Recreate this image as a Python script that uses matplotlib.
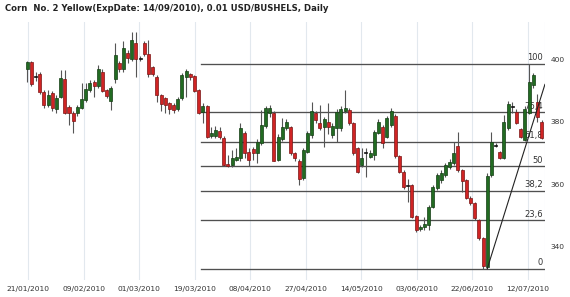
import numpy as np
import matplotlib
matplotlib.use("Agg")
import matplotlib.pyplot as plt

# Daily OHLC (USD cents / bushel)
opens = [396.9, 399.2, 394.6, 395.4, 389.7, 385.4, 389.4, 384.2, 388.1, 393.8,
         384.8, 383.0, 382.8, 384.6, 387.0, 390.2, 392.9, 391.5, 396.1, 390.2,
         386.8, 393.7, 398.8, 396.9, 402.2, 400.1, 405.2, 400.2, 405.2, 401.8,
         397.5, 394.5, 388.6, 387.6, 386.2, 385.4, 384.1, 387.6, 394.5, 395.4,
         394.7, 390.2, 383.3, 385.1, 375.5, 375.5, 377.2, 374.8, 366.5, 366.2,
         367.8, 368.5, 376.5, 370.5, 371.4, 370.0, 373.2, 378.7, 382.8, 383.0,
         367.9, 374.5, 378.0, 378.3, 370.0, 367.6, 362.0, 370.5, 375.8, 382.8,
         379.6, 378.5, 380.1, 375.8, 378.1, 378.0, 383.6, 383.8, 379.8, 371.6,
         366.2, 370.1, 368.9, 369.4, 376.4, 378.5, 375.3, 379.1, 381.9, 369.1,
         364.1, 359.6, 359.8, 349.9, 345.6, 346.3, 347.0, 352.9, 358.8, 361.4,
         363.0, 365.7, 366.8, 372.4, 364.6, 361.4, 355.8, 354.0, 348.6, 342.8,
         333.7, 363.0, 372.6, 370.3, 368.4, 378.0, 385.0, 383.1, 377.7, 374.2,
         382.8, 391.8, 386.5, 380.1]
highs = [399.5, 399.5, 396.0, 396.0, 390.2, 390.2, 390.0, 388.5, 396.6, 396.6,
         385.5, 383.5, 385.5, 392.4, 392.6, 393.5, 393.5, 398.2, 397.0, 390.5,
         391.5, 405.3, 399.5, 406.0, 403.0, 408.9, 408.9, 401.0, 406.0, 406.2,
         398.0, 395.0, 389.0, 388.0, 386.5, 386.0, 388.0, 395.5, 397.0, 395.8,
         395.0, 390.5, 386.0, 385.5, 378.5, 378.8, 378.5, 375.5, 369.4, 371.0,
         371.7, 379.7, 377.0, 371.5, 372.0, 374.5, 383.8, 385.0, 385.5, 383.5,
         376.0, 381.3, 381.0, 378.8, 370.5, 368.0, 371.5, 377.0, 386.5, 383.5,
         385.5, 381.5, 386.0, 379.5, 384.0, 385.0, 390.2, 384.5, 380.0, 372.0,
         371.7, 371.6, 371.0, 377.5, 381.0, 379.0, 382.0, 384.5, 382.5, 369.5,
         364.5, 361.7, 360.2, 350.2, 347.0, 349.7, 353.5, 359.8, 363.5, 364.5,
         367.0, 368.0, 373.5, 376.8, 365.0, 361.8, 356.2, 354.3, 349.0, 343.2,
         363.5, 376.8, 373.2, 370.6, 382.2, 386.8, 386.5, 384.0, 378.0, 385.0,
         398.5, 395.5, 389.0, 380.5]
lows = [392.8, 391.5, 393.0, 389.0, 384.5, 384.8, 383.5, 383.0, 387.5, 382.5,
        379.0, 376.6, 382.0, 384.0, 386.5, 389.5, 388.1, 391.0, 389.5, 387.8,
        383.8, 392.5, 396.0, 396.0, 399.0, 399.5, 394.5, 399.5, 401.0, 394.5,
        394.8, 386.5, 383.5, 382.9, 382.5, 383.0, 383.5, 387.0, 388.1, 393.5,
        389.5, 382.5, 379.7, 375.0, 375.0, 375.0, 374.5, 365.8, 365.5, 365.5,
        367.5, 367.5, 368.5, 366.0, 367.8, 367.0, 372.5, 378.0, 381.5, 367.5,
        367.5, 374.0, 377.5, 369.5, 367.5, 359.8, 361.5, 370.0, 375.0, 379.5,
        377.5, 372.0, 376.0, 375.0, 373.5, 377.0, 383.0, 379.0, 369.5, 363.5,
        365.5, 362.5, 368.5, 367.8, 376.0, 371.6, 374.8, 378.5, 368.5, 363.5,
        358.5, 354.5, 349.3, 344.8, 345.0, 345.5, 345.4, 352.5, 358.3, 360.5,
        362.5, 365.0, 366.3, 364.0, 357.7, 355.2, 353.5, 348.6, 342.3, 333.0,
        333.0, 362.5, 372.0, 368.0, 368.0, 377.5, 382.8, 379.2, 375.0, 373.9,
        382.5, 391.0, 380.0, 374.5]
closes = [399.2, 392.1, 394.4, 389.7, 385.4, 388.6, 384.5, 387.7, 394.2, 383.0,
          383.0, 380.4, 384.8, 387.4, 390.6, 392.6, 391.5, 396.9, 390.0, 388.4,
          391.0, 401.4, 396.9, 403.7, 400.4, 406.2, 400.1, 400.0, 401.8, 395.4,
          395.4, 388.6, 385.8, 385.4, 384.1, 383.8, 387.3, 395.0, 396.4, 394.3,
          390.0, 383.0, 385.1, 375.3, 376.6, 377.4, 375.1, 366.2, 366.0, 368.5,
          368.9, 378.1, 370.0, 367.8, 370.0, 373.7, 379.0, 384.3, 384.3, 367.6,
          375.3, 378.3, 380.1, 370.0, 368.4, 361.7, 371.0, 376.4, 383.6, 380.6,
          378.0, 380.9, 378.3, 378.7, 383.2, 384.1, 384.4, 379.6, 370.0, 364.1,
          368.4, 369.9, 370.0, 376.9, 380.1, 373.4, 381.2, 383.6, 369.1, 364.1,
          359.3, 359.5, 349.7, 345.4, 346.5, 347.4, 352.9, 359.3, 363.0, 363.6,
          366.2, 367.3, 370.2, 364.6, 361.1, 355.8, 354.0, 349.2, 342.8, 334.0,
          362.8, 373.5, 372.4, 368.4, 380.1, 385.7, 384.9, 379.6, 375.3, 384.2,
          392.7, 395.0, 381.7, 374.8]

date_labels = ["21/01/2010", "09/02/2010", "01/03/2010", "19/03/2010", "08/04/2010",
               "27/04/2010", "14/05/2010", "03/06/2010", "22/06/2010", "12/07/2010"]
yticks = [340, 360, 380, 400]

# Fibonacci retracement between swing low and high
fib_low, fib_high = 333.0, 398.5
fib_pcts = [0, 23.6, 38.2, 50, 61.8, 76.4, 100]
fib_names = ["0", "23,6", "38,2", "50", "61,8", "76,4", "100"]
fib_start = 41.5
# trend line from the low candle
trend_x = [110, 123.8]
trend_y = [333.0, 392.0]

o = np.array(opens)
h = np.array(highs)
l = np.array(lows)
c = np.array(closes)
x = np.arange(len(o))

fig = plt.figure(figsize=(5.7, 2.97), dpi=100)
ax = fig.add_axes([0.0, 0.0572, 0.956, 0.869])

tick_pos = np.arange(len(date_labels)) * 13.28 + 0.2
for t in tick_pos:
    ax.axvline(t, color="#e2e8ee", lw=0.8, zorder=0)
ax.axvline(123.75, color="#e2e8ee", lw=0.8, zorder=0)

x_right = 123.6
for pct, name in zip(fib_pcts, fib_names):
    lvl = fib_low + pct / 100 * (fib_high - fib_low)
    ax.plot([fib_start, x_right], [lvl, lvl], color="#505050", lw=0.95, zorder=1)
    ax.text(x_right - 0.3, lvl + 0.6, name, ha="right", va="bottom",
            fontsize=6, color="#333333", zorder=1)

ax.plot(trend_x, trend_y, color="#222222", lw=0.8, zorder=4)

up = c > o
doji = np.abs(c - o) < 0.4
body_col = np.where(up, "#226b22", "#d02424")
edge_col = np.where(up, "#143d14", "#7a1515")
body_col[doji] = "#111111"
edge_col[doji] = "#111111"

ax.vlines(x, l, h, color="#555555", lw=0.8, zorder=2)
bottoms = np.minimum(o, c)
heights = np.maximum(np.abs(c - o), 0.35)
ax.bar(x, heights, bottom=bottoms, width=0.72, color=body_col,
       edgecolor=edge_col, linewidth=0.5, zorder=3)

ax.set_xlim(-6.5, 123.8)
ax.set_ylim(329.4, 412.0)
ax.set_xticks(tick_pos)
ax.set_xticklabels(date_labels, fontsize=5.4, color="#333333")
ax.yaxis.tick_right()
ax.set_yticks(yticks)
ax.set_yticklabels([str(v) for v in yticks], fontsize=5.4, color="#333333")
ax.tick_params(length=0, pad=4)
for s in ax.spines.values():
    s.set_visible(False)

fig.text(0.009, 0.972, "Corn  No. 2 Yellow(ExpDate: 14/09/2010), 0.01 USD/BUSHELS, Daily",
         fontsize=6.1, fontweight="bold", color="#222222", va="center", ha="left")

fig.savefig("out.png", dpi=100)
